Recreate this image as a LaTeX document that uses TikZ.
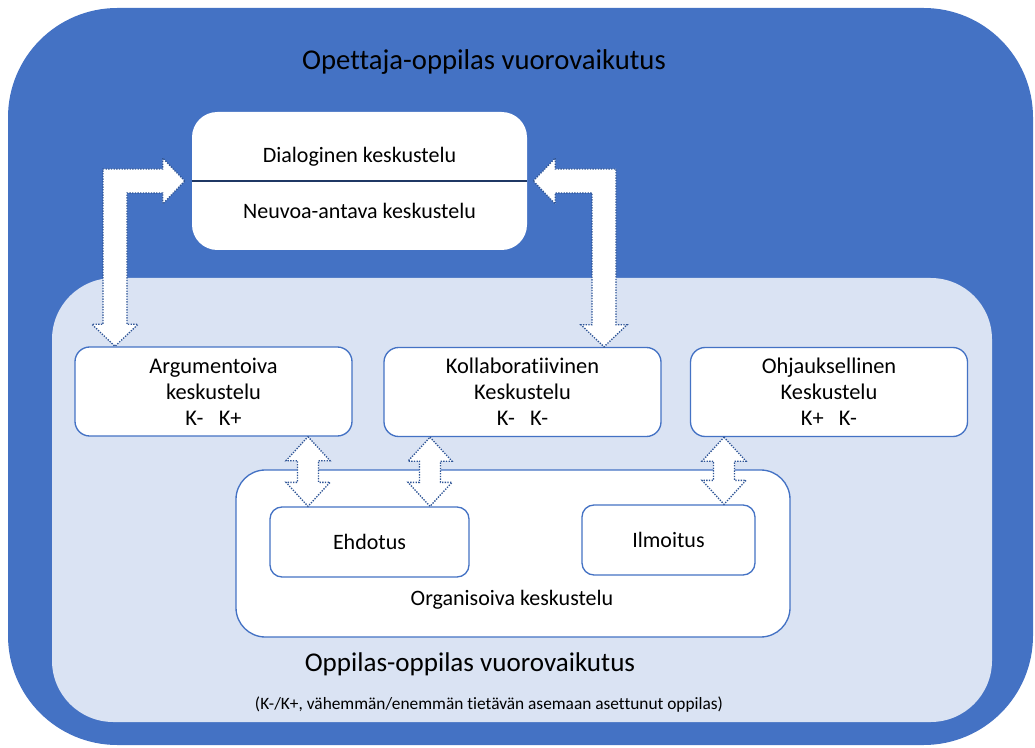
\documentclass[tikz,border=0pt]{standalone}
\usepackage{fontspec}
\setmainfont[Ligatures=NoCommon]{Carlito}
\usetikzlibrary{calc}
\definecolor{outerblue}{HTML}{4472C4}
\definecolor{innerblue}{HTML}{DAE3F3}
\definecolor{boxline}{HTML}{4472C4}
\definecolor{dotline}{HTML}{2F5597}
\definecolor{navyline}{HTML}{1F3864}
\newcommand\mydblarrow[2]{%
  \draw[arrowbody] let \p1=(#1), \p2=(#2) in
  (\x1,\y1) -- (\x1+16.5pt,\y1-18pt) -- (\x1+7.9pt,\y1-18pt) -- (\x1+7.9pt,\y2+18pt)
  -- (\x1+16.5pt,\y2+18pt) -- (\x1,\y2) -- (\x1-16.5pt,\y2+18pt) -- (\x1-7.9pt,\y2+18pt)
  -- (\x1-7.9pt,\y1-18pt) -- (\x1-16.5pt,\y1-18pt) -- cycle;}
\begin{document}
\begin{tikzpicture}[x=0.75pt,y=-0.75pt,
  rowbox/.style={draw=boxline, line width=1pt, fill=white, rounded corners=11pt,
    minimum width=207.75pt, minimum height=66.75pt, align=center, inner sep=0pt,
    font=\fontsize{16.8}{19.5}\selectfont},
  smallbox/.style={draw=boxline, line width=1pt, fill=white, rounded corners=9pt,
    minimum height=52.5pt, inner sep=0pt, font=\fontsize{16.5}{19.5}\selectfont},
  arrowbody/.style={fill=white, draw=dotline, line width=1pt, dash pattern=on 1pt off 1pt},
  plaintext/.style={inner sep=0pt, font=\fontsize{16.5}{19.5}\selectfont},
  bigtext/.style={inner sep=0pt, font=\fontsize{21.5}{25}\selectfont}]
\useasboundingbox (0,0) rectangle (1035,748);
% backgrounds
\fill[outerblue, rounded corners=82pt] (8,8) rectangle (1033,745);
\fill[innerblue, rounded corners=46pt] (52,278) rectangle (992,722);
% title
\node[bigtext] (title) at (484,62) {Opettaja-oppilas vuorovaikutus};
% top box
\node[fill=white, rounded corners=19pt, minimum width=251.25pt, minimum height=103.5pt, inner sep=0pt] (top) at (359.5,181) {};
\draw[navyline, line width=2pt] (top.west) -- (top.east);
\node[plaintext] (dial) at (359.5,157) {Dialoginen keskustelu};
\node[plaintext] (neuv) at (359.5,211) {Neuvoa-antava keskustelu};
% row boxes
\node[rowbox] (arg) at (213.5,391.5) {Argumentoiva\\keskustelu\\K-\ \ \ K+};
\node[rowbox] (kol) at (522.5,392) {Kollaboratiivinen\\Keskustelu\\K-\ \ \ K-};
\node[rowbox] (ohj) at (829,392) {Ohjauksellinen\\Keskustelu\\K+\ \ \ K-};
% organising box
\node[draw=boxline, line width=1pt, fill=white, rounded corners=22pt, minimum width=415.5pt, minimum height=125.25pt, inner sep=0pt] (org) at (513,553.5) {};
\node[smallbox, minimum width=149.25pt] (ehd) at (369.5,542) {Ehdotus};
\node[smallbox, minimum width=129.75pt] (ilm) at (668.5,540) {Ilmoitus};
\node[plaintext] (orgtext) at (512,600) {Organisoiva keskustelu};
% bottom texts
\node[inner sep=0pt, font=\fontsize{20.3}{24}\selectfont] (oppi) at (470,664) {Oppilas-oppilas vuorovaikutus};
\node[inner sep=0pt, font=\fontsize{13}{15}\selectfont] (note) at (489,705) {(K-/K+, vähemmän/enemmän tietävän asemaan asettunut oppilas)};
% helper coordinates
\coordinate (x115) at (115,0);
\coordinate (x604) at (604,0);
\coordinate (x308) at (308,0);
\coordinate (x430) at (430,0);
\coordinate (x724) at (724,0);
\coordinate (ltip) at ($(top.west)+(-5.25pt,0)$);
\coordinate (rtip) at ($(top.east)+(4.5pt,0)$);
% left bent arrow
\draw[arrowbody] let \p1=(ltip), \p2=(arg.north -| x115) in
  (\x1,\y1) -- (\x1-16.5pt,\y1+17.25pt) -- (\x1-16.5pt,\y1+9pt) -- (\x2-9pt,\y1+9pt)
  -- (\x2-9pt,\y2+16.5pt) -- (\x2-17.25pt,\y2+16.5pt) -- (\x2,\y2) -- (\x2+17.25pt,\y2+16.5pt)
  -- (\x2+9pt,\y2+16.5pt) -- (\x2+9pt,\y1-9pt) -- (\x1-16.5pt,\y1-9pt) -- (\x1-16.5pt,\y1-17.25pt) -- cycle;
% right bent arrow
\draw[arrowbody] let \p1=(rtip), \p2=(kol.north -| x604) in
  (\x1,\y1) -- (\x1+16.5pt,\y1+17.25pt) -- (\x1+16.5pt,\y1+9pt) -- (\x2+9pt,\y1+9pt)
  -- (\x2+9pt,\y2+16.5pt) -- (\x2+17.25pt,\y2+16.5pt) -- (\x2,\y2) -- (\x2-17.25pt,\y2+16.5pt)
  -- (\x2-9pt,\y2+16.5pt) -- (\x2-9pt,\y1-9pt) -- (\x1+16.5pt,\y1-9pt) -- (\x1+16.5pt,\y1-17.25pt) -- cycle;
% small double arrows
\mydblarrow{arg.south -| x308}{ehd.north -| x308}
\mydblarrow{kol.south -| x430}{ehd.north -| x430}
\mydblarrow{ohj.south -| x724}{ilm.north -| x724}
\end{tikzpicture}
\end{document}
